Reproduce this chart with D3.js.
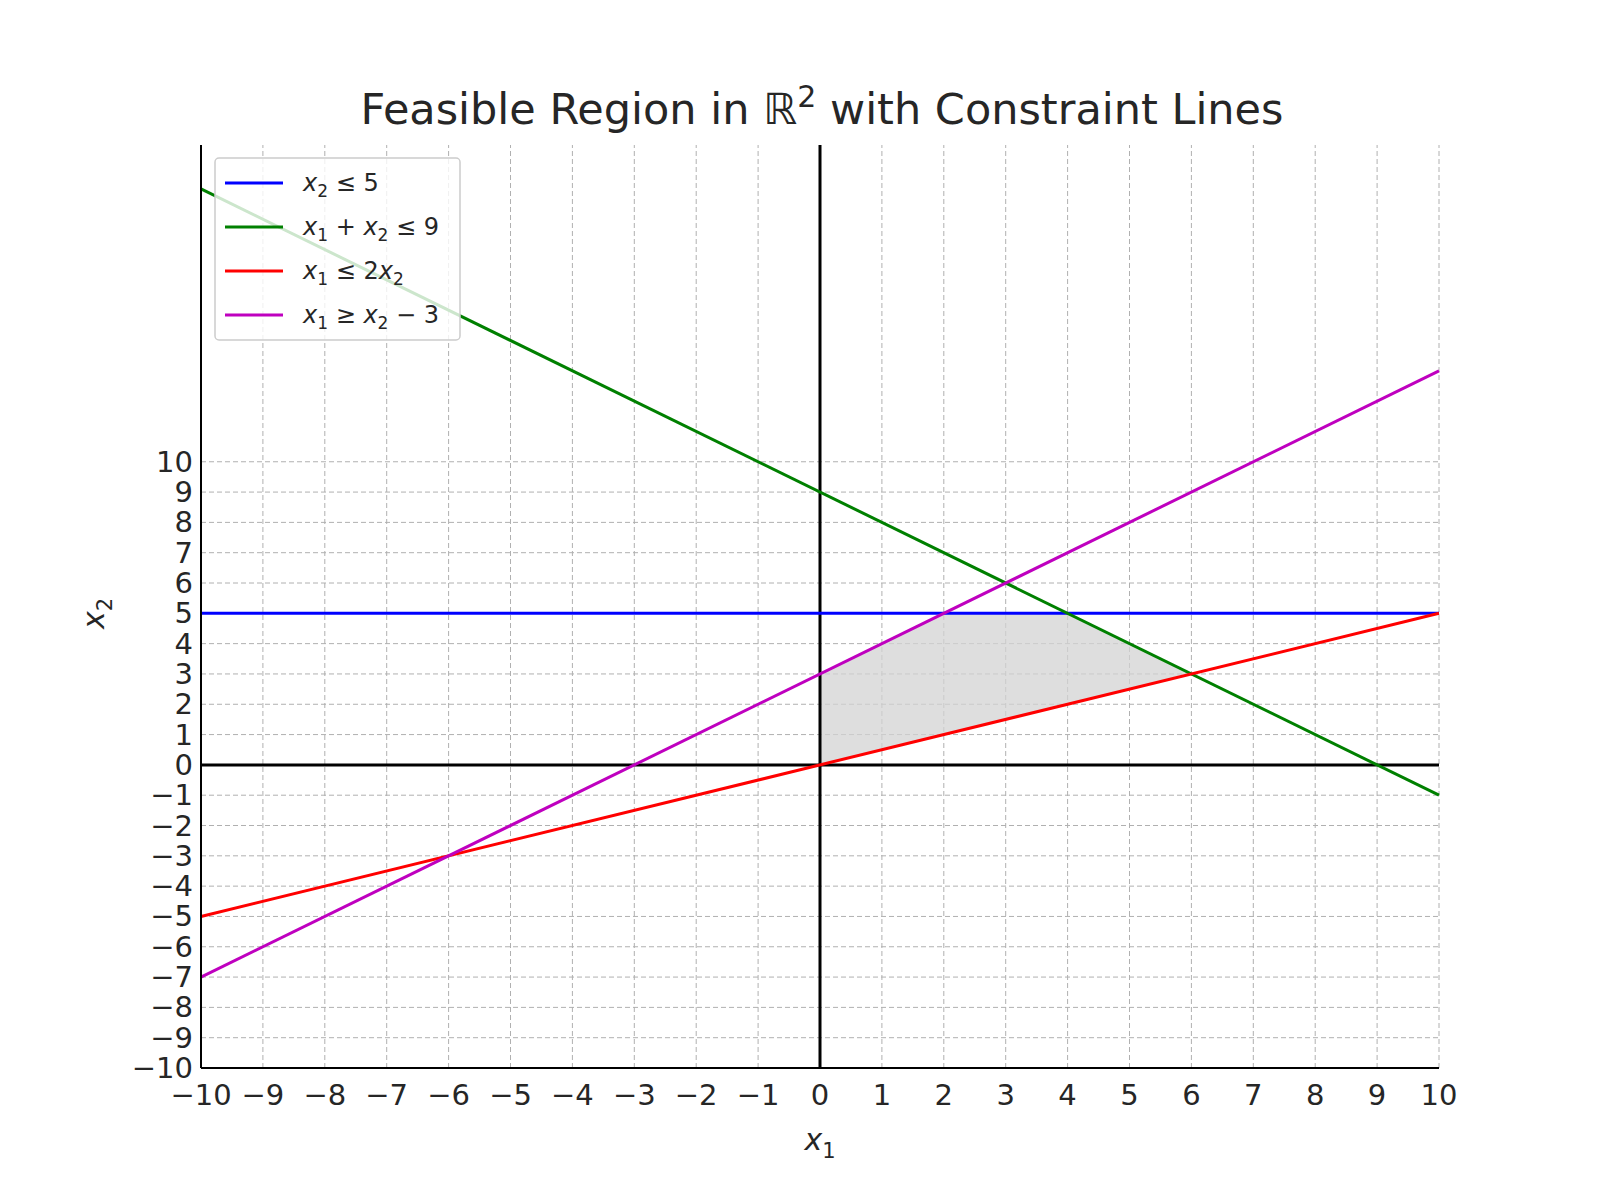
<!DOCTYPE html>
<html><head><meta charset="utf-8">
<script src="https://cdn.jsdelivr.net/npm/d3@7"></script>
<style>body{margin:0;background:#fff}text{font-family:"DejaVu Sans",sans-serif;fill:#262626}</style>
</head><body><svg id="c" width="1600" height="1200"></svg>
<script>
// data
var xTicks = d3.range(-10, 11);
var yTicks = d3.range(-10, 11);
var lineNames = ["blue", "green", "red", "magenta"];
var lineColors = ["#0000ff", "#008000", "#ff0000", "#bf00bf"];
// each line as two endpoints at x=-10 and x=10
var lineStart = [[-10, 5], [-10, 19], [-10, -5], [-10, -7]];
var lineEnd = [[10, 5], [10, -1], [10, 5], [10, 13]];
var feasible = [[0, 0], [0, 3], [2, 5], [4, 5], [6, 3]];

var svg = d3.select("#c");
var x = d3.scaleLinear().domain([-10, 10]).range([201, 1439]);
var y = d3.scaleLinear().domain([-10, 20.45]).range([1068, 145]);

// grid
svg.append("g").selectAll("line").data(xTicks).enter().append("line")
    .attr("x1", d => x(d)).attr("x2", d => x(d)).attr("y1", y(-10)).attr("y2", y(20.45))
    .attr("stroke", "#b0b0b0").attr("stroke-dasharray", "5,3").attr("stroke-width", 1);
svg.append("g").selectAll("line").data(yTicks).enter().append("line")
    .attr("y1", d => y(d)).attr("y2", d => y(d)).attr("x1", x(-10)).attr("x2", x(10))
    .attr("stroke", "#b0b0b0").attr("stroke-dasharray", "5,3").attr("stroke-width", 1);

// feasible region
svg.append("path")
    .attr("d", "M" + feasible.map(d => x(d[0]) + "," + y(d[1])).join("L") + "Z")
    .attr("fill", "#d3d3d3").attr("opacity", 0.75);

// zero axes
svg.append("line").attr("x1", x(-10)).attr("x2", x(10)).attr("y1", y(0)).attr("y2", y(0))
    .attr("stroke", "#000").attr("stroke-width", 3);
svg.append("line").attr("x1", x(0)).attr("x2", x(0)).attr("y1", y(-10)).attr("y2", y(20.45))
    .attr("stroke", "#000").attr("stroke-width", 3);

// constraint lines
lineNames.forEach(function(n, i) {
    svg.append("line").attr("x1", x(lineStart[i][0])).attr("y1", y(lineStart[i][1]))
        .attr("x2", x(lineEnd[i][0])).attr("y2", y(lineEnd[i][1]))
        .attr("stroke", lineColors[i]).attr("stroke-width", 3);
});

// spines
svg.append("line").attr("x1", x(-10)).attr("x2", x(-10)).attr("y1", y(-10)).attr("y2", y(20.45)).attr("stroke", "#000").attr("stroke-width", 2);
svg.append("line").attr("x1", x(-10)).attr("x2", x(10)).attr("y1", y(-10)).attr("y2", y(-10)).attr("stroke", "#000").attr("stroke-width", 2);

// tick labels
var fmt = d => d < 0 ? "\u2212" + (-d) : "" + d;
svg.append("g").selectAll("text").data(xTicks).enter().append("text")
    .attr("x", d => x(d)).attr("y", y(-10) + 37).attr("text-anchor", "middle")
    .attr("font-size", 29).text(fmt);
svg.append("g").selectAll("text").data(yTicks).enter().append("text")
    .attr("x", x(-10) - 8).attr("y", d => y(d) + 10).attr("text-anchor", "end")
    .attr("font-size", 29).text(fmt);

// labels
svg.append("text").attr("x", 822).attr("y", 124).attr("text-anchor", "middle").attr("font-size", 43)
    .html('Feasible Region in \u211D<tspan dy="-17" font-size="30">2</tspan><tspan dy="17"> with Constraint Lines</tspan>');
svg.append("text").attr("x", x(0)).attr("y", 1150).attr("text-anchor", "middle").attr("font-size", 30).attr("font-style", "italic")
    .html('x<tspan dy="8" font-size="21" font-style="normal">1</tspan>');
svg.append("text").attr("transform", "translate(104," + y(5) + ") rotate(-90)").attr("text-anchor", "middle").attr("font-size", 30).attr("font-style", "italic")
    .html('x<tspan dy="8" font-size="21" font-style="normal">2</tspan>');

// legend
var legendLabels = [
    'x<tspan dy="6" font-size="17" font-style="normal">2</tspan><tspan dy="-6" font-style="normal"> \u2264 5</tspan>',
    'x<tspan dy="6" font-size="17" font-style="normal">1</tspan><tspan dy="-6" font-style="normal"> + </tspan>x<tspan dy="6" font-size="17" font-style="normal">2</tspan><tspan dy="-6" font-style="normal"> \u2264 9</tspan>',
    'x<tspan dy="6" font-size="17" font-style="normal">1</tspan><tspan dy="-6" font-style="normal"> \u2264 2</tspan>x<tspan dy="6" font-size="17" font-style="normal">2</tspan>',
    'x<tspan dy="6" font-size="17" font-style="normal">1</tspan><tspan dy="-6" font-style="normal"> \u2265 </tspan>x<tspan dy="6" font-size="17" font-style="normal">2</tspan><tspan dy="-6" font-style="normal"> \u2212 3</tspan>'
];
var lg = svg.append("g").attr("transform", "translate(215,158)");
lg.append("rect").attr("width", 245).attr("height", 182).attr("rx", 4)
    .attr("fill", "#fff").attr("fill-opacity", 0.8).attr("stroke", "#ccc").attr("stroke-width", 1.5);
lineNames.forEach(function(n, i) {
    var yy = 25 + i * 44;
    lg.append("line").attr("x1", 10).attr("x2", 68).attr("y1", yy).attr("y2", yy)
        .attr("stroke", lineColors[i]).attr("stroke-width", 3);
    lg.append("text").attr("x", 88).attr("y", yy + 8).attr("font-size", 24).attr("font-style", "italic").html(legendLabels[i]);
});
</script></body></html>
